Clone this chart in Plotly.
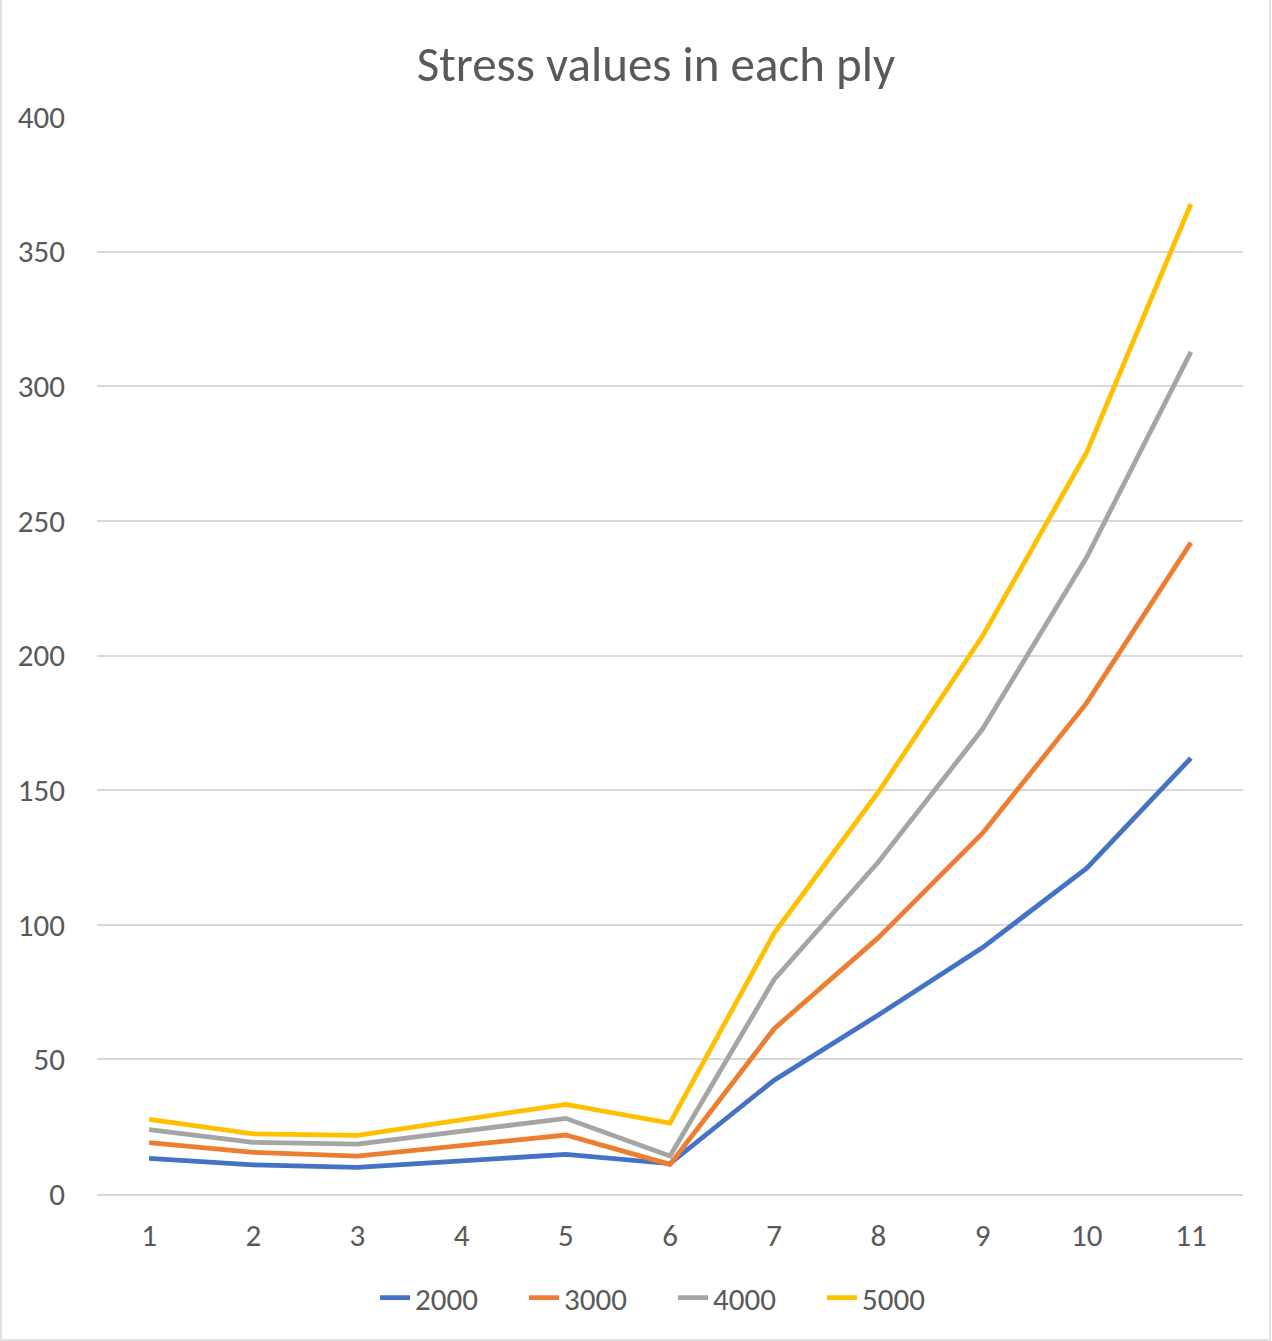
import plotly.graph_objects as go

plies = [1, 2, 3, 4, 5, 6, 7, 8, 9, 10, 11]
s2000 = [13.2, 10.8, 9.9, 12.4, 14.7, 11.3, 42.3, 66.5, 91.5, 121.0, 161.9]
s3000 = [19.1, 15.5, 14.1, 17.9, 21.9, 11.0, 61.4, 95.2, 134.0, 182.4, 241.9]
s4000 = [23.9, 19.2, 18.5, 23.1, 28.1, 14.1, 79.7, 123.3, 172.7, 236.5, 312.8]
s5000 = [27.7, 22.3, 21.8, 27.5, 33.3, 26.3, 96.9, 149.3, 207.2, 275.5, 367.7]

series = [("2000", s2000, "#4472C4"), ("3000", s3000, "#ED7D31"),
          ("4000", s4000, "#A5A5A5"), ("5000", s5000, "#FFC000")]

fig = go.Figure()
for name, vals, color in series:
    fig.add_trace(go.Scatter(x=plies, y=vals, name=name, mode="lines",
                             line=dict(color=color, width=4.8)))

font = "Calibri, Carlito, 'Open Sans', 'Noto Sans', sans-serif"
W, H = 1272, 1341
L, R, T, B = 97, 29, 117, 147
PW, PH = W - L - R, H - T - B
fig.update_layout(
    width=W, height=H,
    paper_bgcolor="white", plot_bgcolor="white",
    margin=dict(l=L, r=R, t=T, b=B),
    title=dict(text="Stress values in each ply", x=656 / W, xanchor="center",
               y=1 - 64 / H, yanchor="middle",
               font=dict(family=font, size=49, color="#595959")),
    font=dict(family=font, color="#595959", size=31),
    showlegend=True,
    legend=dict(orientation="h", x=(375 - L) / PW, xanchor="left", y=-(1298 - 1194) / PH,
                yanchor="middle", font=dict(size=31, color="#595959"),
                itemwidth=30, entrywidth=104, entrywidthmode="pixels"),
    xaxis=dict(type="linear", range=[0.5, 11.5], tickvals=plies,
               ticktext=[str(p) for p in plies], showgrid=False,
               showline=True, linecolor="#D9D9D9", linewidth=1.5,
               ticks="", ticklabelstandoff=13, zeroline=False,
               tickfont=dict(size=31, color="#595959")),
    yaxis=dict(range=[0, 400], tickvals=[0, 50, 100, 150, 200, 250, 300, 350, 400],
               showgrid=True, gridcolor="#D9D9D9", gridwidth=1.5,
               zeroline=False, showline=False, ticks="",
               ticklabelstandoff=31,
               tickfont=dict(size=31, color="#595959")),
    shapes=[dict(type="rect", xref="paper", yref="paper",
                 x0=-(L - 1) / PW, x1=1 + (R - 2) / PW, y0=-(B - 1) / PH, y1=1 + (T + 5) / PH,
                 line=dict(color="#D9D9D9", width=1.5))],
)

fig.write_html("out.html", config={"displayModeBar": False},
               post_script="document.body.style.margin='0';")
